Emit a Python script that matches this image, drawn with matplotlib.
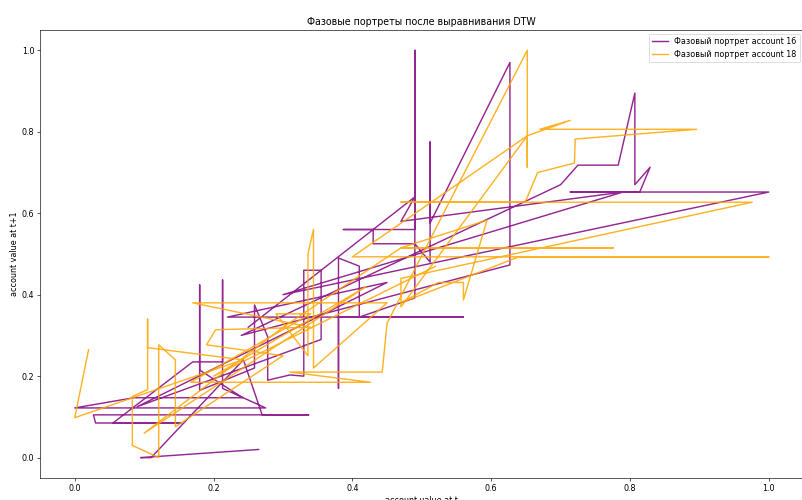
import numpy as np
import matplotlib
matplotlib.use("Agg")
import matplotlib.pyplot as plt

# DTW-aligned phase portraits: (value at t, value at t+1) for two accounts
acc16_x = [0.265, 0.095, 0.110, 0.243, 0.270, 0.337, 0.027, 0.030, 0.153, 0.055,
           0.170, 0.213, 0.213, 0.213, 0.275, 0.000, 0.085, 0.242, 0.180, 0.180,
           0.180, 0.259, 0.259, 0.278, 0.278, 0.310, 0.330, 0.330, 0.355, 0.355,
           0.090, 0.450, 0.220, 0.560, 0.380, 0.380, 0.380, 0.410, 0.410, 0.490,
           0.490, 0.490, 0.387, 0.430, 0.430, 0.490, 0.512, 0.512, 0.512, 0.627,
           0.627, 0.240, 0.700, 0.725, 0.783, 0.807, 0.807, 0.829, 0.814, 0.714,
           1.000, 0.300, 0.790, 0.470, 0.490, 0.250]
acc16_y = [0.020, 0.000, 0.000, 0.240, 0.105, 0.105, 0.105, 0.085, 0.085, 0.085,
           0.235, 0.235, 0.436, 0.170, 0.122, 0.122, 0.147, 0.147, 0.215, 0.424,
           0.165, 0.220, 0.375, 0.297, 0.190, 0.203, 0.200, 0.460, 0.460, 0.290,
           0.125, 0.430, 0.345, 0.345, 0.345, 0.170, 0.490, 0.470, 0.345, 0.392,
           1.000, 0.560, 0.560, 0.560, 0.525, 0.525, 0.480, 0.775, 0.576, 0.970,
           0.473, 0.300, 0.670, 0.718, 0.718, 0.895, 0.670, 0.713, 0.652, 0.652,
           0.652, 0.400, 0.652, 0.580, 0.640, 0.320]

acc18_x = [0.020, 0.000, 0.242, 0.105, 0.105, 0.105, 0.083, 0.083, 0.121, 0.121,
           0.145, 0.145, 0.300, 0.190, 0.203, 0.340, 0.170, 0.450, 0.344, 0.344,
           0.336, 0.336, 0.290, 0.340, 0.167, 0.426, 0.310, 0.443, 0.450, 0.652,
           0.652, 0.652, 0.714, 0.670, 0.896, 0.721, 0.720, 0.667, 0.649, 0.470,
           0.976, 0.470, 0.470, 0.652, 0.400, 1.000, 0.640, 0.470, 0.524, 0.560,
           0.560, 0.594, 0.470, 0.776, 0.470, 0.300, 0.100, 0.420, 0.200, 0.520]
acc18_y = [0.265, 0.098, 0.240, 0.270, 0.340, 0.167, 0.150, 0.030, 0.000, 0.277,
           0.240, 0.076, 0.250, 0.277, 0.314, 0.320, 0.380, 0.380, 0.220, 0.560,
           0.500, 0.250, 0.353, 0.353, 0.185, 0.185, 0.210, 0.210, 0.330, 1.000,
           0.713, 0.790, 0.828, 0.806, 0.806, 0.782, 0.723, 0.700, 0.627, 0.627,
           0.627, 0.440, 0.370, 0.790, 0.493, 0.493, 0.493, 0.380, 0.430, 0.430,
           0.387, 0.583, 0.515, 0.515, 0.515, 0.320, 0.060, 0.420, 0.200, 0.470]

fig = plt.figure(figsize=(14, 8.73), dpi=802 / 14)
ax = fig.add_axes([0.0499, 0.044, 0.952, 0.896])

ax.plot(acc16_x, acc16_y, color="purple", lw=1.8, alpha=0.85, label="Фазовый портрет account 16")
ax.plot(acc18_x, acc18_y, color="orange", lw=1.8, alpha=0.85, label="Фазовый портрет account 18")

ax.set_title("Фазовые портреты после выравнивания DTW")
ax.set_xlabel("account value at t")
ax.set_ylabel("account value at t+1")
ax.legend(loc="upper right")

fig.savefig("out.png", dpi=802 / 14)
